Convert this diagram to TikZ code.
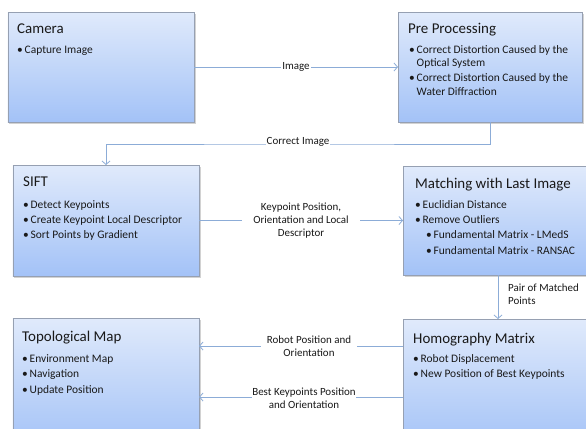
\documentclass[tikz,border=0pt]{standalone}
\usepackage{fontspec}
\setmainfont{Carlito}
\usetikzlibrary{arrows.meta,shadows}
\definecolor{boxtop}{RGB}{224,234,251}
\definecolor{boxbot}{RGB}{163,194,247}
\definecolor{boxline}{RGB}{150,160,178}
\definecolor{arrowc}{RGB}{140,172,215}
\definecolor{txt}{RGB}{25,25,25}
\newcommand\bl{\makebox[7.5bp][l]{\textbullet}}
\begin{document}
\begin{tikzpicture}[x=1bp,y=-1bp,
  box/.style={draw=boxline, line width=0.8bp, top color=boxtop, bottom color=boxbot,
    inner sep=0, outer sep=0, drop shadow={shadow xshift=1.5bp, shadow yshift=-1.5bp, opacity=0.35}},
  ttl/.style={font=\fontsize{15}{18}\selectfont, anchor=base west, inner sep=0, text=txt},
  itm/.style={font=\fontsize{11.5}{14}\selectfont, anchor=base west, inner sep=0, text=txt},
  lbl/.style={font=\fontsize{11}{13}\selectfont, align=center, inner sep=1bp, text=txt, fill=white},
  arr/.style={draw=arrowc, line width=0.8bp, -{Straight Barb[length=3.5bp,width=8bp]}}]
\useasboundingbox (0,0) rectangle (586,428);
\fill[white] (0,0) rectangle (586,428);
% boxes
\node[box, minimum width=186bp, minimum height=110bp] (cam) at (101,67) {};
\node[box, minimum width=184bp, minimum height=110bp] (pre) at (490,67) {};
\node[box, minimum width=186bp, minimum height=111bp] (sift) at (106,220.5) {};
\node[box, minimum width=190bp, minimum height=109bp] (match) at (498,220.5) {};
\node[box, minimum width=186bp, minimum height=130bp] (topo) at (106,383) {};
\node[box, minimum width=190bp, minimum height=130bp] (homo) at (498,384) {};
% box texts
\node[ttl] (camt) at (17,33) {Camera};
\node[itm] (cam1) at (17,53) {\bl Capture Image};
\node[ttl] (pret) at (408,33) {Pre Processing};
\node[itm] (pre1) at (409,53) {\bl Correct Distortion Caused by the};
\node[itm] (pre2) at (409,66) {\hspace*{7.5bp}Optical System};
\node[itm] (pre3) at (409,81) {\bl Correct Distortion Caused by the};
\node[itm] (pre4) at (409,95) {\hspace*{7.5bp}Water Diffraction};
\node[ttl] (siftt) at (23,186) {SIFT};
\node[itm] (sift1) at (23,208) {\bl Detect Keypoints};
\node[itm] (sift2) at (23,223) {\bl Create Keypoint Local Descriptor};
\node[itm] (sift3) at (23,238) {\bl Sort Points by Gradient};
\node[ttl] (matcht) at (415,188) {Matching with Last Image};
\node[itm] (match1) at (415,208) {\bl Euclidian Distance};
\node[itm] (match2) at (415,223) {\bl Remove Outliers};
\node[itm] (match3) at (426,238) {\bl Fundamental Matrix - LMedS};
\node[itm] (match4) at (426,254) {\bl Fundamental Matrix - RANSAC};
\node[ttl] (topot) at (22,341) {Topological Map};
\node[itm] (topo1) at (22,362) {\bl Environment Map};
\node[itm] (topo2) at (22,377) {\bl Navigation};
\node[itm] (topo3) at (22,393) {\bl Update Position};
\node[ttl] (homot) at (413,343) {Homography Matrix};
\node[itm] (homo1) at (413,362) {\bl Robot Displacement};
\node[itm] (homo2) at (413,377) {\bl New Position of Best Keypoints};
% connectors
\coordinate (ci) at (300,144);
\coordinate (rp) at (300,346);
\coordinate (bk) at (300,397);
\draw[arr] (cam.east) -- node[lbl] (imgl) {Image} (pre.west);
\draw[arr] (pre.south) |- (ci) -| (sift.north);
\node[lbl] (cil) at (298,142) {Correct Image};
\draw[arr] (sift.east) -- node[lbl, inner xsep=11bp] (kpl) {Keypoint Position,\\Orientation and Local\\Descriptor} (match.west);
\draw[arr] (match.south) -- (homo.north);
\node[font=\fontsize{11}{13.5}\selectfont, align=left, anchor=north west, inner sep=0, text=txt] (pml) at (508,283.5) {Pair of Matched\\Points};
\draw[arr] (homo.west |- rp) -- (topo.east |- rp);
\node[lbl, inner xsep=6bp] (rpl) at (309,346.5) {Robot Position and\\Orientation};
\draw[arr] (homo.west |- bk) -- (topo.east |- bk);
\node[lbl, inner xsep=0.5bp] (bkl) at (304,398.5) {Best Keypoints Position\\and Orientation};
\end{tikzpicture}
\end{document}
